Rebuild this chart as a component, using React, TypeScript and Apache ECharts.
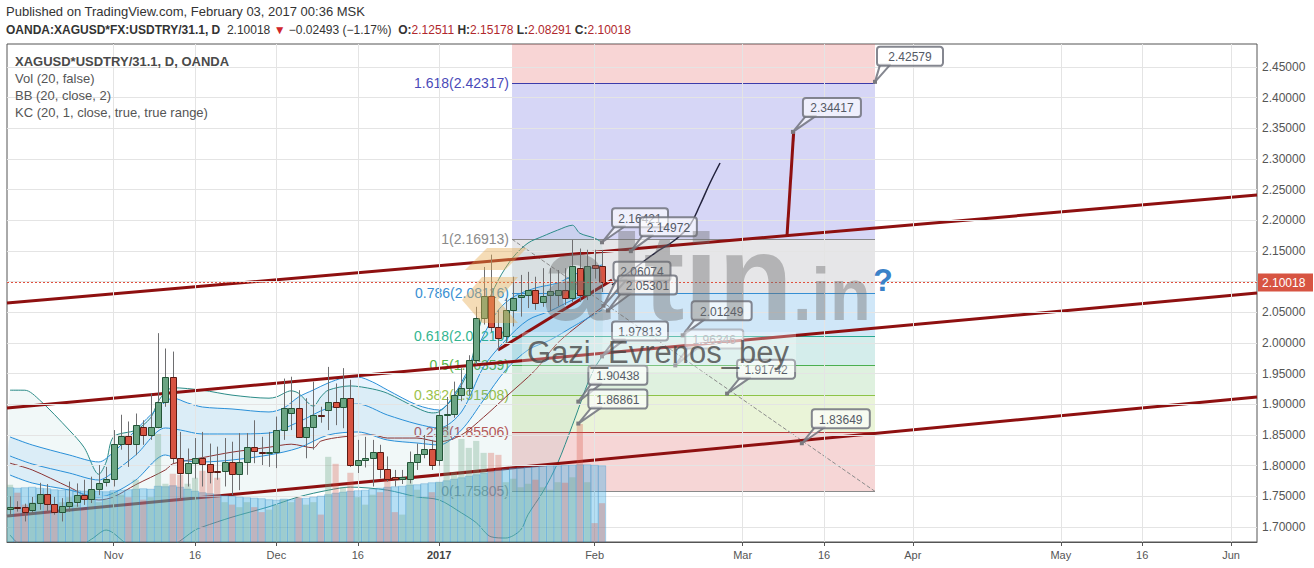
import React, { useEffect, useRef } from "react";
import * as echarts from "echarts";

const FONT = '"Liberation Sans", Arial, sans-serif';

// ---- axes (bar index: 0 = 1 Nov 2016, trading days only) ----
const X_MIN = -14.405;
const X_MAX = 154.51;
const Y_MIN = 1.6755;
const Y_MAX = 2.4875;
const xTickBars = [0, 11, 22, 33, 44, 65, 85, 96, 108, 128, 139, 151];
const xTickLabels = ["Nov", "16", "Dec", "16", "2017", "Feb", "Mar", "16", "Apr", "May", "16", "Jun"];
const yTicks = [1.7, 1.75, 1.8, 1.85, 1.9, 1.95, 2.0, 2.05, 2.1, 2.15, 2.2, 2.25, 2.3, 2.35, 2.4, 2.45];
const lastPrice = 2.10018;

// ---- candles [open, high, low, close], first bar index = FIRST_BAR ----
const FIRST_BAR = -14;
const candles: number[][] = [
  [1.729, 1.75, 1.717, 1.732], [1.733, 1.742, 1.725, 1.732], [1.733, 1.738, 1.709, 1.725], [1.727, 1.749, 1.72, 1.739],
  [1.739, 1.772, 1.728, 1.753], [1.753, 1.77, 1.725, 1.738], [1.738, 1.749, 1.72, 1.725], [1.725, 1.747, 1.709, 1.735],
  [1.735, 1.774, 1.725, 1.741], [1.741, 1.771, 1.733, 1.752], [1.752, 1.777, 1.736, 1.745], [1.745, 1.782, 1.739, 1.762],
  [1.762, 1.801, 1.752, 1.771], [1.774, 1.798, 1.766, 1.779], [1.779, 1.858, 1.766, 1.835], [1.835, 1.883, 1.826, 1.848],
  [1.848, 1.872, 1.798, 1.835], [1.835, 1.885, 1.817, 1.866], [1.863, 1.874, 1.834, 1.85], [1.85, 1.918, 1.842, 1.863],
  [1.863, 2.016, 1.861, 1.904], [1.904, 1.991, 1.896, 1.944], [1.944, 1.986, 1.804, 1.812], [1.812, 1.855, 1.744, 1.788],
  [1.788, 1.828, 1.766, 1.804], [1.804, 1.845, 1.779, 1.812], [1.813, 1.855, 1.766, 1.802], [1.802, 1.836, 1.771, 1.789],
  [1.792, 1.831, 1.777, 1.79], [1.792, 1.845, 1.766, 1.806], [1.806, 1.839, 1.752, 1.786], [1.786, 1.853, 1.76, 1.806],
  [1.806, 1.853, 1.785, 1.83], [1.83, 1.874, 1.804, 1.824], [1.823, 1.847, 1.801, 1.82], [1.82, 1.855, 1.798, 1.823],
  [1.823, 1.88, 1.796, 1.858], [1.858, 1.942, 1.842, 1.894], [1.886, 1.945, 1.858, 1.894], [1.894, 1.923, 1.845, 1.847],
  [1.847, 1.91, 1.812, 1.863], [1.863, 1.937, 1.826, 1.882], [1.882, 1.896, 1.87, 1.881], [1.891, 1.961, 1.858, 1.904],
  [1.903, 1.934, 1.866, 1.895], [1.895, 1.959, 1.861, 1.91], [1.91, 1.94, 1.798, 1.801], [1.801, 1.842, 1.788, 1.809],
  [1.809, 1.847, 1.797, 1.812], [1.812, 1.842, 1.766, 1.823], [1.823, 1.834, 1.779, 1.794], [1.794, 1.815, 1.774, 1.779],
  [1.782, 1.793, 1.766, 1.778], [1.779, 1.793, 1.77, 1.782], [1.779, 1.823, 1.771, 1.806], [1.806, 1.836, 1.793, 1.819],
  [1.819, 1.85, 1.812, 1.827], [1.827, 1.842, 1.793, 1.801], [1.81, 1.891, 1.8, 1.883], [1.883, 1.912, 1.858, 1.884],
  [1.884, 1.937, 1.878, 1.915], [1.915, 1.959, 1.905, 1.926], [1.926, 1.98, 1.915, 1.972], [1.972, 2.059, 1.965, 2.04],
  [2.04, 2.124, 2.03, 2.076], [2.076, 2.144, 2.018, 2.026], [2.026, 2.054, 1.989, 2.008], [2.011, 2.073, 2.0, 2.053],
  [2.053, 2.108, 2.027, 2.074], [2.075, 2.111, 2.043, 2.079], [2.079, 2.116, 2.057, 2.087], [2.087, 2.108, 2.054, 2.065],
  [2.067, 2.122, 2.059, 2.077], [2.079, 2.122, 2.052, 2.084], [2.078, 2.119, 2.06, 2.086], [2.086, 2.122, 2.062, 2.073],
  [2.073, 2.168, 2.067, 2.126], [2.123, 2.154, 2.067, 2.078], [2.078, 2.152, 2.07, 2.126], [2.127, 2.152, 2.105, 2.123],
  [2.12511, 2.15178, 2.08291, 2.10018],
];

// ---- volume (relative units, axis 0..100) ----
const volumes = [
  11.5, 9.9, 7.5, 8.0, 9.5, 8.5, 7.0, 8.0, 9.0, 7.5, 6.5, 9.0, 8.0, 8.5, 10.0, 9.5, 9.0, 12.5, 8.5, 9.0,
  21.7, 11.7, 13.7, 13.5, 11.7, 12.9, 14.3, 13.9, 12.9, 8.0, 7.5, 7.0, 8.0, 7.0, 6.0, 6.5, 7.5, 8.5, 8.0, 9.0,
  7.5, 8.0, 5.5, 17.1, 15.7, 11.0, 13.9, 9.0, 7.5, 9.5, 10.0, 13.3, 6.0, 5.5, 12.7, 10.5, 9.0, 10.0, 12.0, 23.3,
  14.0, 20.7, 18.9, 20.3, 17.9, 17.9, 17.5, 12.0, 12.7, 11.0, 11.7, 12.5, 11.0, 10.5, 12.0, 11.9, 13.0, 23.7, 12.0, 3.8,
  7.8,
];
const volumeMA = [
  10.9, 10.8, 10.9, 11.0, 10.8, 10.7, 10.5, 10.4, 10.5, 10.3, 10.2, 10.3, 10.2, 10.1, 10.3, 10.4, 10.5, 10.6, 10.7, 10.6,
  11.2, 11.1, 11.3, 11.0, 10.6, 10.2, 9.9, 9.7, 9.5, 9.3, 9.2, 9.0, 8.9, 8.8, 8.7, 8.5, 8.4, 8.6, 8.5, 8.7,
  8.8, 9.0, 9.2, 9.5, 9.8, 10.0, 10.2, 10.3, 10.4, 10.6, 10.8, 11.0, 11.1, 11.2, 11.4, 11.5, 11.7, 11.9, 12.0, 12.3,
  12.6, 12.9, 13.2, 13.5, 13.8, 14.1, 14.4, 14.6, 14.8, 14.9, 15.0, 15.1, 15.2, 15.3, 15.3, 15.4, 15.4, 15.5, 15.5, 15.4,
  15.3,
];

// ---- Bollinger Bands (20, close, 2): [bar, price] ----
const bbUpper = [
  [-14, 1.923], [-12, 1.923], [-10, 1.907], [-6, 1.858], [-4, 1.83], [-2, 1.786], [-1, 1.806], [0, 1.847], [3, 1.858],
  [5, 1.878], [6, 1.904], [7, 1.92], [8, 1.927], [12, 1.923], [16, 1.915], [21, 1.91], [22, 1.912], [24, 1.922],
  [25, 1.918], [27, 1.897], [28, 1.912], [29, 1.923], [32, 1.93], [35, 1.925], [37, 1.918], [41, 1.894], [43, 1.886],
  [44, 1.888], [46, 1.912], [48, 1.956], [49, 2.005], [50, 2.049], [52, 2.103], [54, 2.14], [56, 2.163], [58, 2.174],
  [60, 2.184], [62, 2.192], [63, 2.179], [65, 2.171], [66, 2.164],
];
const bbBasis = [
  [-14, 1.804], [-11, 1.793], [-6, 1.765], [-2, 1.744], [0, 1.749], [3, 1.769], [7, 1.793], [8, 1.803], [12, 1.813],
  [16, 1.822], [21, 1.83], [24, 1.835], [27, 1.829], [28, 1.84], [31, 1.847], [35, 1.85], [37, 1.845], [41, 1.845],
  [44, 1.839], [47, 1.85], [50, 1.879], [53, 1.912], [57, 1.956], [60, 2.0], [64, 2.04], [66, 2.058],
];
const bbLower = [
  [-14, 1.687], [-13, 1.674], [-11, 1.66], [-6, 1.66], [-3, 1.68], [-1, 1.695], [2, 1.671], [5, 1.66], [8, 1.67],
  [11, 1.695], [12, 1.7], [16, 1.716], [21, 1.733], [25, 1.749], [29, 1.76], [32, 1.765], [37, 1.76], [41, 1.749],
  [44, 1.744], [47, 1.723], [49, 1.707], [51, 1.684], [53, 1.682], [55, 1.695], [56, 1.72], [58, 1.757], [60, 1.804],
  [62, 1.866], [63, 1.899], [64, 1.932], [65, 1.959], [66, 1.978],
];

// ---- Keltner Channels (20, 1) ----
const kcUpper = [
  [-14, 1.8467], [-11, 1.8337], [-6, 1.8174], [-2, 1.806], [0, 1.8223], [3, 1.8581], [5, 1.8826], [7, 1.9038],
  [8, 1.9103], [10, 1.9022], [12, 1.8956], [16, 1.8924], [21, 1.8875], [23, 1.894], [25, 1.912], [27, 1.9234],
  [29, 1.9348], [31, 1.9429], [33, 1.9445], [35, 1.9364], [37, 1.9234], [41, 1.8989], [44, 1.8907], [46, 1.9152],
  [48, 1.9592], [50, 2.013], [52, 2.0538], [54, 2.075], [57, 2.0897], [60, 2.0978], [63, 2.1157], [66, 2.1272],
];
const kcBasis = [
  [-14, 1.8157], [-11, 1.8027], [-6, 1.788], [-2, 1.7766], [0, 1.7896], [3, 1.8174], [7, 1.8614], [9, 1.8581],
  [12, 1.8516], [16, 1.8516], [21, 1.8532], [25, 1.8712], [29, 1.894], [33, 1.9005], [37, 1.8826], [41, 1.8679],
  [44, 1.8614], [47, 1.8875], [50, 1.9609], [53, 2.0049], [56, 2.0375], [59, 2.0522], [62, 2.0701], [66, 2.0897],
];
const kcLower = [
  [-14, 1.7847], [-11, 1.7717], [-6, 1.7603], [-2, 1.7489], [0, 1.7554], [3, 1.7766], [7, 1.8174], [9, 1.8092],
  [12, 1.806], [16, 1.8092], [21, 1.8174], [25, 1.8288], [29, 1.85], [33, 1.8549], [37, 1.8418], [41, 1.8369],
  [44, 1.8337], [47, 1.8581], [50, 1.9071], [53, 1.956], [56, 1.9886], [59, 2.0049], [62, 2.0261], [66, 2.0538],
];

// ---- drawings ----
const channelLines = [
  [[-14.405, 2.0652], [154.51, 2.2413]],
  [[-14.405, 1.894], [154.51, 2.0815]],
  [[-14.405, 1.7179], [154.51, 1.9119]],
  [[51.95, 1.9886], [67.35, 2.1027]],
];
const spikeLine = [[91.0, 2.1744], [91.9, 2.34417]];
const projectionCurve = [
  [67.35, 2.0946], [70.46, 2.1223], [73.16, 2.1467], [75.86, 2.1679], [77.89, 2.1924], [79.24, 2.225], [80.59, 2.2609], [81.95, 2.2935],
];
const fibAnchors = [[53.84, 2.16913], [102.89, 1.75805]];
const fibLabels = ["1.618", "1", "0.786", "0.618", "0.5", "0.382", "0.236", "0"];
const fibPrices = [2.42317, 2.16913, 2.08116, 2.0121, 1.96359, 1.91508, 1.85506, 1.75805];
const fibLineColors = ["#3b3ba6", "#8a8a8a", "#3a8fd2", "#2aa893", "#4caf50", "#8bc34a", "#b23a3a", "#8a8a8a"];
const fibTextColors = ["#4a4ab8", "#8a8a8a", "#3a8fd2", "#33b58f", "#58b64a", "#9cc24a", "#c05656", "#8a8a8a"];
const fibFills = [
  "rgba(225,80,80,0.24)", "rgba(70,70,215,0.22)", "rgba(128,128,140,0.2)", "rgba(40,145,225,0.22)",
  "rgba(38,166,154,0.2)", "rgba(76,175,80,0.18)", "rgba(150,200,60,0.2)", "rgba(215,70,70,0.22)",
];
// price labels: [bar, price]
const callouts = [
  [102.89, 2.42579], [91.8, 2.34417], [66.0, 2.16421], [69.9, 2.14972], [66.2, 2.06074], [66.8, 2.05301],
  [76.9, 2.01249], [66.0, 1.97813], [75.9, 1.96346], [82.9, 1.91742], [62.8, 1.90438], [62.8, 1.86861], [93.0, 1.83649],
];
// label box layout (pixels): horizontal offset, extra lift, width, faded
const calloutDx = [2, 10, 10, 9, 10, 10, 9, 10, 10, 10, 10, 10, 10];
const calloutLift = [1, 0, 0, 0, 10, 1, 0, 1, 2, 0, 2, 0, 0];
const calloutWidth = [66, 58, 56, 57, 57, 59, 60, 56, 58, 58, 59, 59, 58];
const calloutFaded = [0, 0, 0, 0, 0, 0, 0, 0, 1, 0, 0, 0, 0];

function lineSeries(data: number[][], color: string, width: number, z: number, extra: any = {}) {
  return {
    type: "line",
    data,
    showSymbol: false,
    symbol: "none",
    silent: true,
    z,
    lineStyle: { color, width, ...(extra.lineStyle || {}) },
    smooth: extra.smooth || 0,
    animation: false,
  };
}

function bandFill(upper: number[][], lower: number[][], color: string, z: number) {
  return {
    type: "custom",
    silent: true,
    z,
    clip: true,
    data: [[0, 2]],
    encode: { x: 0, y: 1 },
    renderItem: (params: any, api: any) => {
      const cs = params.coordSys;
      const cy = (y: number) => Math.max(cs.y, Math.min(cs.y + cs.height, y));
      const pts = upper
        .map((p) => {
          const c = api.coord(p);
          return [c[0], cy(c[1])];
        })
        .concat(
          lower
            .slice()
            .reverse()
            .map((p) => {
              const c = api.coord(p);
              return [c[0], cy(c[1])];
            })
        );
      return { type: "polygon", shape: { points: pts, smooth: 0.2 }, style: { fill: color } };
    },
  };
}

function buildOption() {
  const candleData = candles.map((c, k) => [FIRST_BAR + k, c[0], c[1], c[2], c[3]]);
  const volData = volumes.map((v, k) => [FIRST_BAR + k, v, candles[k][3] >= candles[k][0] ? 1 : 0]);
  const volMaData = volumeMA.map((v, k) => [FIRST_BAR + k, v]);

  const series: any[] = [];

  // grid lines
  series.push({
    type: "line",
    data: [[X_MIN, Y_MIN]],
    showSymbol: false,
    lineStyle: { opacity: 0 },
    silent: true,
    z: 1,
    markLine: {
      silent: true,
      symbol: ["none", "none"],
      label: { show: false },
      lineStyle: { color: "#e4e4e4", width: 1, type: "solid" },
      data: [...yTicks.map((v) => ({ yAxis: v })), ...xTickBars.map((b) => ({ xAxis: b }))],
    },
  });

  // fibonacci retracement
  series.push({
    type: "custom",
    silent: true,
    z: 2,
    clip: true,
    data: fibPrices.map((p, k) => [fibAnchors[0][0], p, k]),
    encode: { x: 0, y: 1 },
    renderItem: (params: any, api: any) => {
      const cs = params.coordSys;
      const k = api.value(2);
      const p = fibPrices[k];
      const a = api.coord([fibAnchors[0][0], p]);
      const b = api.coord([fibAnchors[1][0], p]);
      const yTop = k === 0 ? cs.y : api.coord([fibAnchors[0][0], fibPrices[k - 1]])[1];
      const y = Math.round(a[1]) + 0.5;
      return {
        type: "group",
        children: [
          { type: "rect", shape: { x: a[0], y: yTop, width: b[0] - a[0], height: a[1] - yTop }, style: { fill: fibFills[k] } },
          { type: "line", shape: { x1: a[0], y1: y, x2: b[0], y2: y }, style: { stroke: fibLineColors[k], lineWidth: 1 } },
          {
            type: "text",
            style: {
              text: fibLabels[k] + "(" + p.toFixed(5) + ")",
              x: a[0] - 3,
              y: a[1],
              align: "right",
              verticalAlign: "middle",
              textAlign: "right",
              textVerticalAlign: "middle",
              font: "14px " + FONT,
              fill: fibTextColors[k],
            },
          },
        ],
      };
    },
  });

  // band fills
  series.push(bandFill(bbUpper, bbLower, "rgba(25,135,135,0.06)", 2));
  series.push(bandFill(kcUpper, kcLower, "rgba(33,150,243,0.10)", 2));

  // fib trend (dashed)
  series.push(lineSeries(fibAnchors, "#8c8c8c", 1, 3, { lineStyle: { type: "dashed" } }));

  // indicators
  series.push(lineSeries(bbUpper, "#2c8c88", 1, 3, { smooth: 0.3 }));
  series.push(lineSeries(bbLower, "#2c8c88", 1, 3, { smooth: 0.3 }));
  series.push(lineSeries(bbBasis, "#8c3434", 1, 3, { smooth: 0.3 }));
  series.push(lineSeries(kcUpper, "#2a90d8", 1, 3, { smooth: 0.3 }));
  series.push(lineSeries(kcBasis, "#2a90d8", 1, 3, { smooth: 0.3 }));
  series.push(lineSeries(kcLower, "#2a90d8", 1, 3, { smooth: 0.3 }));

  // channel lines
  channelLines.forEach((l) => series.push(lineSeries(l, "#8e1010", 3, 4)));

  // volume MA columns + volume
  series.push({
    type: "custom",
    silent: true,
    yAxisIndex: 1,
    z: 5,
    clip: true,
    data: volMaData,
    encode: { x: 0, y: 1 },
    renderItem: (params: any, api: any) => {
      const i = api.value(0);
      const v = api.value(1);
      const p0 = api.coord([i - 0.5, v]);
      const p1 = api.coord([i + 0.5, 0]);
      return {
        type: "rect",
        shape: { x: p0[0], y: p0[1], width: p1[0] - p0[0], height: p1[1] - p0[1] },
        style: { fill: "rgba(80,178,228,0.42)", stroke: "rgba(50,140,200,0.3)", lineWidth: 1 },
      };
    },
  });
  series.push({
    type: "custom",
    silent: true,
    yAxisIndex: 1,
    z: 5,
    clip: true,
    data: volData,
    encode: { x: 0, y: 1 },
    renderItem: (params: any, api: any) => {
      const i = api.value(0);
      const v = api.value(1);
      const up = api.value(2);
      const p0 = api.coord([i - 0.42, v]);
      const p1 = api.coord([i + 0.42, 0]);
      return {
        type: "rect",
        shape: { x: p0[0], y: p0[1], width: p1[0] - p0[0], height: p1[1] - p0[1] },
        style: { fill: up ? "rgba(107,165,131,0.32)" : "rgba(215,84,66,0.3)" },
      };
    },
  });

  // candles
  series.push({
    type: "custom",
    silent: true,
    z: 6,
    clip: true,
    data: candleData,
    encode: { x: 0, y: [1, 2, 3, 4] },
    renderItem: (params: any, api: any) => {
      const i = api.value(0);
      const o = api.value(1);
      const h = api.value(2);
      const l = api.value(3);
      const c = api.value(4);
      const po = api.coord([i, o]);
      const ph = api.coord([i, h]);
      const pl = api.coord([i, l]);
      const pc = api.coord([i, c]);
      const up = c >= o;
      const rx = Math.round(po[0]);
      const cx = rx + 0.5;
      const top = Math.round(Math.min(po[1], pc[1])) + 0.5;
      const bot = Math.round(Math.max(po[1], pc[1])) + 0.5;
      return {
        type: "group",
        children: [
          { type: "line", shape: { x1: cx, y1: ph[1], x2: cx, y2: pl[1] }, style: { stroke: "#6e6e70", lineWidth: 1 } },
          {
            type: "rect",
            shape: { x: rx - 2.5, y: top, width: 6, height: Math.max(bot - top, 1) },
            style: { fill: up ? "#6ba583" : "#d75442", stroke: up ? "#225437" : "#5b1a13", lineWidth: 1 },
          },
        ],
      };
    },
  });

  // projection drawings
  series.push(lineSeries(spikeLine, "#8e1010", 3, 6));
  series.push(lineSeries(projectionCurve, "#23233d", 1.5, 6, { smooth: 0.4 }));

  // last price line + axis label
  series.push({
    type: "custom",
    silent: true,
    z: 7,
    clip: false,
    data: [[X_MIN, lastPrice]],
    encode: { x: 0, y: 1 },
    renderItem: (params: any, api: any) => {
      const cs = params.coordSys;
      const p = api.coord([X_MIN, api.value(1)]);
      const y = Math.round(p[1]) + 0.5;
      const right = cs.x + cs.width;
      return {
        type: "group",
        children: [
          {
            type: "line",
            shape: { x1: cs.x, y1: y, x2: right, y2: y },
            style: { stroke: "#e0503e", lineWidth: 1, lineDash: [2, 2] },
          },
          { type: "rect", shape: { x: right + 1, y: y - 9, width: 55, height: 18 }, style: { fill: "#d75442" } },
          {
            type: "text",
            style: {
              text: api.value(1).toFixed(5),
              x: right + 5,
              y: y + 0.5,
              align: "left",
              verticalAlign: "middle",
              textAlign: "left",
              textVerticalAlign: "middle",
              font: "12px " + FONT,
              fill: "#ffffff",
            },
          },
        ],
      };
    },
  });

  // callouts
  series.push({
    type: "custom",
    silent: true,
    z: 9,
    clip: false,
    data: callouts.map((c, k) => [c[0], c[1], k]),
    encode: { x: 0, y: 1 },
    renderItem: (params: any, api: any) => {
      const i = api.value(0);
      const v = api.value(1);
      const k = api.value(2);
      const a = api.coord([i, v]);
      const bw = calloutWidth[k];
      const bh = 19;
      const bx = a[0] + calloutDx[k];
      const by = a[1] - 15 - bh - calloutLift[k];
      const faded = calloutFaded[k] === 1;
      const stroke = faded ? "rgba(150,150,158,0.6)" : "rgba(112,114,124,0.85)";
      const fill = faded ? "rgba(255,255,255,0.5)" : "rgba(255,255,255,0.62)";
      return {
        type: "group",
        children: [
          {
            type: "polygon",
            shape: { points: [[a[0], a[1]], [bx + 3, by + bh - 1], [bx + 13, by + bh - 1]] },
            style: { fill, stroke, lineWidth: 2, lineJoin: "round" },
          },
          { type: "rect", shape: { x: bx, y: by, width: bw, height: bh, r: 3 }, style: { fill, stroke, lineWidth: 2 } },
          {
            type: "text",
            style: {
              text: v.toFixed(5),
              x: bx + bw / 2,
              y: by + bh / 2 + 1,
              align: "center",
              verticalAlign: "middle",
              textAlign: "center",
              textVerticalAlign: "middle",
              font: "12px " + FONT,
              fill: faded ? "#a8a8b0" : "#545a66",
            },
          },
          { type: "rect", shape: { x: a[0] - 2, y: a[1] - 2, width: 4, height: 4 }, style: { fill: "#7a7a80" } },
        ],
      };
    },
  });

  const txt = (text: string, x: number, y: number, font: string, fill: string, extra: any = {}) => ({
    type: "text",
    x,
    y,
    z: 100,
    silent: true,
    scaleX: extra.scaleX || 1,
    style: {
      text,
      font,
      fill,
      align: extra.align || "left",
      verticalAlign: "middle",
      textAlign: extra.align || "left",
      textVerticalAlign: "middle",
      ...(extra.style || {}),
    },
  });

  const graphic: any[] = [
    txt("Published on TradingView.com, February 03, 2017 00:36 MSK", 6, 11, "13px " + FONT, "#333"),
    txt(
      "{b|OANDA:XAGUSD*FX:USDTRY/31.1, D}  {n|2.10018} {t|▼} {n|−0.02493 (−1.17%)}  {b|O:}{r|2.12511} {b|H:}{r|2.15178} {b|L:}{r|2.08291} {b|C:}{r|2.10018}",
      6,
      30,
      "12px " + FONT,
      "#333",
      {
        style: {
          rich: {
            b: { fontWeight: "bold", fontSize: 12, fontFamily: FONT, fill: "#333" },
            n: { fontSize: 12, fontFamily: FONT, fill: "#333" },
            t: { fontSize: 12, fontFamily: FONT, fill: "#d0262b" },
            r: { fontSize: 12, fontFamily: FONT, fill: "#b0282c" },
          },
        },
      }
    ),
    txt("XAGUSD*USDTRY/31.1, D, OANDA", 15, 61, "bold 13px " + FONT, "#4a4a4a"),
    txt("Vol (20, false)", 15, 78, "13px " + FONT, "#555"),
    txt("BB (20, close, 2)", 15, 95, "13px " + FONT, "#555"),
    txt("KC (20, 1, close, true, true range)", 15, 112, "13px " + FONT, "#555"),
    // watermark logo
    {
      type: "polygon",
      z: 100,
      silent: true,
      shape: { points: [[465, 270], [487, 248], [527, 248], [505, 270]] },
      style: { fill: "rgba(232,172,80,0.42)" },
    },
    {
      type: "polygon",
      z: 100,
      silent: true,
      shape: { points: [[482, 277], [518, 277], [498, 300], [518, 323], [482, 323], [462, 300]] },
      style: { fill: "rgba(232,172,80,0.42)" },
    },
    txt("altin", 542, 278, "bold 122px " + FONT, "rgba(110,110,110,0.42)"),
    txt(".in", 793, 294, "bold 74px " + FONT, "rgba(110,110,110,0.42)", { scaleX: 0.9 }),
    {
      type: "rect",
      z: 100,
      silent: true,
      shape: { x: 522, y: 332, width: 274, height: 40 },
      style: { fill: "rgba(255,255,255,0.28)" },
    },
    txt("Gazi_Evrenos_bey", 527, 352, "31px " + FONT, "rgba(70,70,70,0.78)"),
    txt("?", 883, 280, "bold 32px " + FONT, "#3b82c8", { align: "center" }),
  ];

  return {
    animation: false,
    backgroundColor: "#ffffff",
    grid: { left: 7, right: 57, top: 44, bottom: 26, show: true, borderColor: "#555", borderWidth: 1, backgroundColor: "transparent" },
    xAxis: {
      type: "value",
      min: X_MIN,
      max: X_MAX,
      axisLine: { show: true, lineStyle: { color: "#555" } },
      axisTick: { show: true, customValues: xTickBars, length: 4, lineStyle: { color: "#555" } },
      axisLabel: {
        customValues: xTickBars,
        color: "#555",
        fontSize: 11,
        fontFamily: FONT,
        margin: 7,
        formatter: (v: number) => {
          const k = xTickBars.indexOf(Math.round(v));
          const t = k >= 0 ? xTickLabels[k] : "";
          return t === "2017" ? "{b|2017}" : t;
        },
        rich: { b: { fontWeight: "bold", color: "#444", fontSize: 11, fontFamily: FONT } },
      },
      splitLine: { show: false },
    },
    yAxis: [
      {
        type: "value",
        position: "right",
        min: Y_MIN,
        max: Y_MAX,
        axisLine: { show: true, lineStyle: { color: "#555" } },
        axisTick: { show: true, customValues: yTicks, length: 4, lineStyle: { color: "#555" } },
        axisLabel: {
          customValues: yTicks,
          color: "#555",
          fontSize: 12,
          fontFamily: FONT,
          margin: 5,
          formatter: (v: number) => v.toFixed(5),
        },
        splitLine: { show: false },
      },
      { type: "value", min: 0, max: 100, show: false },
    ],
    graphic,
    series,
  };
}

export default function App() {
  const ref = useRef<HTMLDivElement>(null);
  useEffect(() => {
    if (!ref.current) return;
    const chart = echarts.init(ref.current, undefined, { renderer: "svg" });
    chart.setOption(buildOption() as any);
    return () => chart.dispose();
  }, []);
  return (
    <div
      ref={ref}
      style={{ position: "fixed", left: 0, top: 0, width: 1314, height: 568, background: "#fff" }}
    />
  );
}
